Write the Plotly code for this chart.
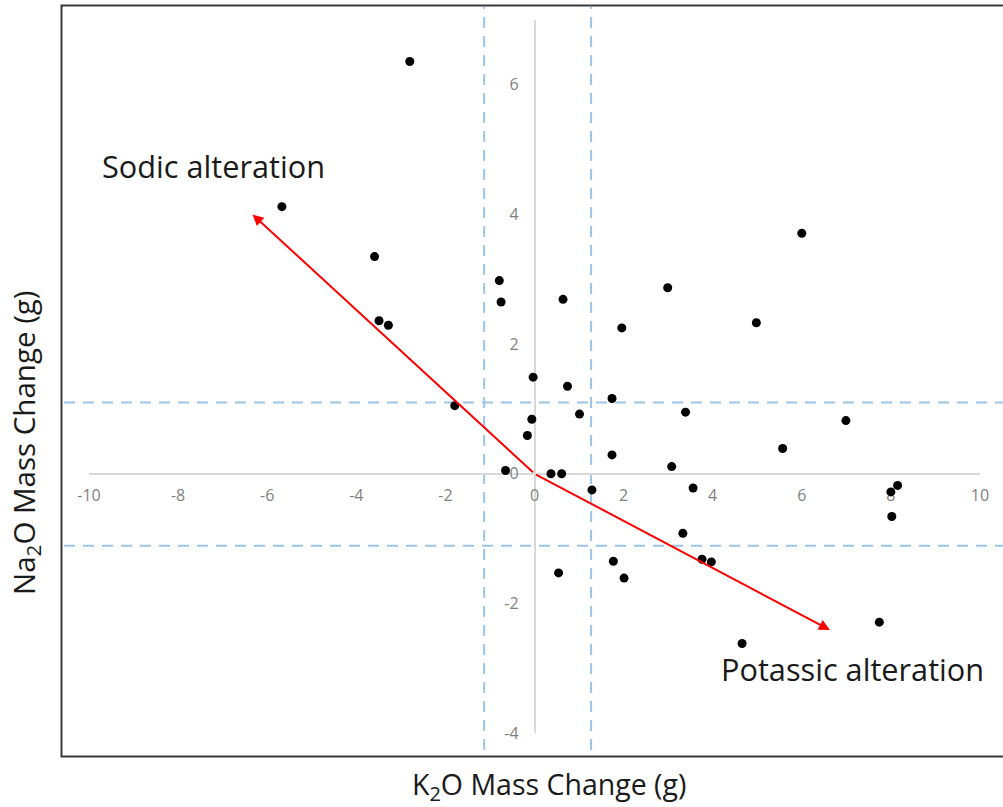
import plotly.graph_objects as go

# ---- data ----
k2o = [-2.80, -5.67, -3.59, -3.49, -3.28, -1.79, -0.79, -0.75, -0.03, -0.06,
       -0.16, -0.65, 0.64, 0.74, 1.01, 0.37, 0.61, 1.29, 1.96, 1.74,
       1.74, 2.99, 3.08, 3.39, 3.56, 3.33, 3.76, 3.97, 0.54, 1.77,
       2.01, 4.66, 4.98, 6.00, 5.57, 6.99, 7.74, 8.15, 8.00, 8.02]
na2o = [6.36, 4.12, 3.35, 2.36, 2.29, 1.05, 2.98, 2.65, 1.49, 0.84,
        0.59, 0.05, 2.69, 1.35, 0.92, 0.00, 0.00, -0.25, 2.25, 1.16,
        0.29, 2.87, 0.11, 0.95, -0.22, -0.92, -1.32, -1.36, -1.53, -1.35,
        -1.61, -2.62, 2.33, 3.71, 0.39, 0.82, -2.29, -0.18, -0.28, -0.66]

x_ticks = [-10, -8, -6, -4, -2, 0, 2, 4, 6, 8, 10]
x_tick_labels = ["-10", "-8", "-6", "-4", "-2", "0", "2", "4", "6", "8", "10"]
y_ticks = [-4, -2, 0, 2, 4, 6]
y_tick_labels = ["-4", "-2", "0", "2", "4", "6"]
x_range = [-10, 10]
y_range = [-4, 7]

k2o_thresholds = [-1.13, 1.27]
na2o_thresholds = [1.10, -1.11]

arrow_origin = (0, 0)
sodic_tip = (-6.33, 4.00)
potassic_tip = (6.63, -2.41)

labels = ["Sodic alteration", "Potassic alteration"]
label_pos = [(-9.75, 4.75), (4.14, -3.02)]

# ---- layout geometry ----
W, H = 1003, 807
ML, MR, MT, MB = 89, 23, 20, 74
PW, PH = W - ML - MR, H - MT - MB


def xp(v):
    return (v - x_range[0]) / (x_range[1] - x_range[0])


def yp(v):
    return (v - y_range[0]) / (y_range[1] - y_range[0])


def px2x(p):
    return (p - ML) / PW


def px2y(p):
    return (H - MB - p) / PH


fig = go.Figure()
fig.add_trace(go.Scatter(
    x=k2o, y=na2o, mode="markers",
    marker=dict(size=9, color="black"),
    cliponaxis=False, showlegend=False, hoverinfo="x+y"))

shapes = []
# outer frame
shapes.append(dict(type="rect", xref="paper", yref="paper",
                   x0=px2x(61.5), x1=px2x(1006), y0=px2y(756.5), y1=px2y(5.5),
                   line=dict(color="#3a3a3a", width=2), layer="below"))
dash_style = dict(color="#9DC3E6", width=2, dash="11px,8px")
for v in k2o_thresholds:
    shapes.append(dict(type="line", xref="paper", yref="paper",
                       x0=xp(v), x1=xp(v), y0=px2y(750), y1=px2y(7),
                       line=dash_style, layer="below"))
for v in na2o_thresholds:
    shapes.append(dict(type="line", xref="paper", yref="paper",
                       x0=px2x(64), x1=px2x(1003), y0=yp(v), y1=yp(v),
                       line=dash_style, layer="below"))

annotations = []
for tip in (sodic_tip, potassic_tip):
    annotations.append(dict(
        x=tip[0], y=tip[1], ax=arrow_origin[0], ay=arrow_origin[1],
        xref="x", yref="y", axref="x", ayref="y", text="",
        showarrow=True, arrowhead=2, arrowsize=1.1, arrowwidth=2,
        arrowcolor="#FF0000"))
for t, (lx, ly) in zip(labels, label_pos):
    annotations.append(dict(
        x=lx, y=ly, xref="x", yref="y", text=t, showarrow=False,
        xanchor="left", yanchor="middle",
        font=dict(family="Open Sans", size=30.7, color="#1a1a1a")))
annotations.append(dict(
    x=px2x(549), y=px2y(786), xref="paper", yref="paper",
    text="K<sub>2</sub>O Mass Change (g)", showarrow=False, borderpad=0,
    xanchor="center", yanchor="middle",
    font=dict(family="Open Sans", size=28.5, color="#1a1a1a")))
annotations.append(dict(
    x=px2x(25), y=px2y(443), xref="paper", yref="paper",
    text="Na<sub>2</sub>O Mass Change (g)", showarrow=False, textangle=-90,
    xanchor="center", yanchor="middle",
    font=dict(family="Open Sans", size=29.5, color="#1a1a1a")))

axis_common = dict(showgrid=False, zeroline=False, showline=True,
                   linecolor="#d9d9d9", linewidth=1.5, ticks="",
                   layer="below traces",
                   tickfont=dict(family="Open Sans", size=16, color="#7f7f7f"))

fig.update_layout(
    width=W, height=H, autosize=False,
    margin=dict(l=ML, r=MR, t=MT, b=MB, pad=0),
    paper_bgcolor="white", plot_bgcolor="white",
    xaxis=dict(range=x_range, tickvals=x_ticks, ticktext=x_tick_labels,
               anchor="free", position=yp(0), ticklabelstandoff=7,
               **axis_common),
    yaxis=dict(range=y_range, tickvals=y_ticks, ticktext=y_tick_labels,
               anchor="free", position=xp(0), ticklabelstandoff=12,
               **axis_common),
    shapes=shapes, annotations=annotations, showlegend=False)

fig.write_html("out.html", config={"displayModeBar": False},
               post_script="document.body.style.margin='0';")
